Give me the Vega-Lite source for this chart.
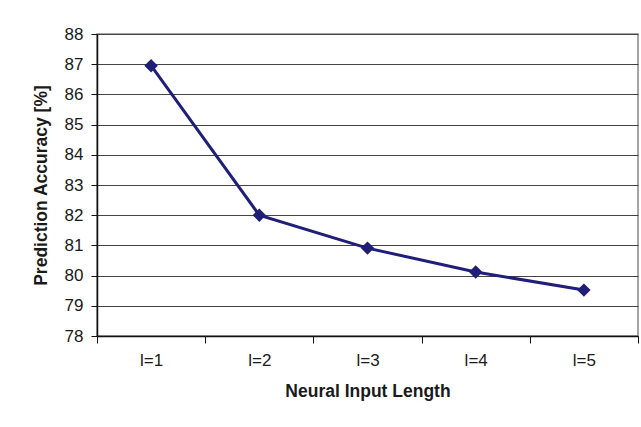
{
  "$schema": "https://vega.github.io/schema/vega-lite/v6.json",
  "width": 541,
  "height": 302,
  "autosize": {"type": "none"},
  "padding": {"left": 97, "top": 34, "right": 3, "bottom": 91},
  "background": "white",
  "config": {
    "view": {"stroke": "#888888", "strokeWidth": 1.5},
    "font": "Liberation Sans",
    "axis": {
      "labelFont": "Liberation Sans",
      "titleFont": "Liberation Sans",
      "labelColor": "#1a1a1a",
      "titleColor": "#1a1a1a",
      "domainColor": "#111111",
      "tickColor": "#111111",
      "labelFontSize": 17,
      "titleFontSize": 17.5
    }
  },
  "data": {
    "values": [
      {"len": "l=1", "acc": 86.95},
      {"len": "l=2", "acc": 82.0},
      {"len": "l=3", "acc": 80.91},
      {"len": "l=4", "acc": 80.12},
      {"len": "l=5", "acc": 79.52}
    ]
  },
  "encoding": {
    "x": {
      "field": "len",
      "type": "ordinal",
      "sort": null,
      "scale": {"type": "band", "paddingInner": 0, "paddingOuter": 0},
      "axis": {
        "title": "Neural Input Length",
        "titleFontWeight": "bold",
        "titlePadding": 14,
        "labelAngle": 0,
        "labelPadding": 9,
        "tickBand": "extent",
        "tickSize": 7,
        "grid": false,
        "domainWidth": 1.5
      }
    },
    "y": {
      "field": "acc",
      "type": "quantitative",
      "scale": {"domain": [78, 88], "nice": false, "zero": false},
      "axis": {
        "title": "Prediction Accuracy [%]",
        "titleFontWeight": "bold",
        "titlePadding": 14,
        "values": [78, 79, 80, 81, 82, 83, 84, 85, 86, 87, 88],
        "tickSize": 6,
        "labelPadding": 8,
        "grid": true,
        "gridColor": "#444444",
        "gridWidth": 1,
        "gridOpacity": 1,
        "domainWidth": 1.5
      }
    }
  },
  "layer": [
    {"mark": {"type": "line", "color": "#1f1f7a", "strokeWidth": 3}},
    {"mark": {"type": "point", "shape": "diamond", "filled": true, "color": "#1f1f7a", "opacity": 1, "size": 180}}
  ]
}
